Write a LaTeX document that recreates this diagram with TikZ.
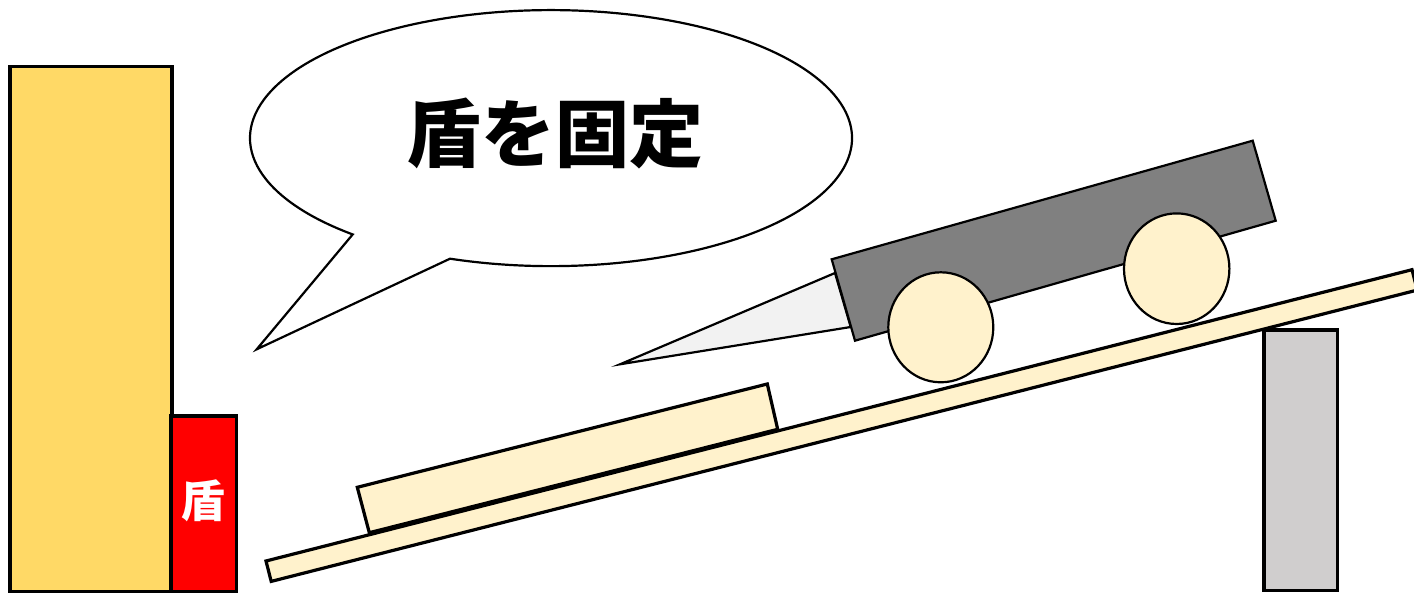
\documentclass[tikz,border=0pt]{standalone}
\usepackage{fontspec}
\newfontfamily\jpfont{Noto Sans CJK JP}
\definecolor{wallyellow}{HTML}{FFD966}
\definecolor{shieldred}{HTML}{FF0000}
\definecolor{cream}{HTML}{FFF2CC}
\definecolor{postgray}{HTML}{D0CECE}
\definecolor{bodygray}{HTML}{808080}
\definecolor{conegray}{HTML}{F2F2F2}
\begin{document}
\begin{tikzpicture}[x=1pt, y=-1pt, line join=miter,
  heavy/.style={draw=black, line width=3.2pt},
  light/.style={draw=black, line width=2.2pt}]
\useasboundingbox (0,0) rectangle (1414,593);

% wall and shield
\draw[heavy, fill=wallyellow] (10,66.7) rectangle (172,591.5);
\draw[heavy, fill=shieldred] (171,416) rectangle (236.7,591.5);
\node[text=white, font=\jpfont\bfseries\fontsize{44}{44}\selectfont, inner sep=0pt]
  (shieldlabel) at (203,501) {盾};

% speech bubble
\draw[light, fill=white] (450,258.7)
  arc[start angle=109.6, end angle=-228.8, x radius=301, y radius=128]
  -- (256.7,349.3) -- cycle;
\node[font=\jpfont\bfseries\fontsize{74}{74}\selectfont, inner sep=0pt]
  (speech) at (555,133) {盾を固定};

% support post and ramp
\draw[heavy, fill=postgray] (1264,330) rectangle (1337.3,590.7);
\draw[heavy, fill=cream] (266,561) -- (1412,269.7) -- (1417.2,290.1) -- (271.2,581.4) -- cycle;

% board lying on the ramp
\draw[heavy, fill=cream] (357.3,487.3) -- (767.3,384) -- (777.7,429.3) -- (369.3,532.7) -- cycle;

% cart: nose cone, body, wheels
\draw[light, fill=conegray] (620,364.3) -- (835,273) -- (850.7,327) -- cycle;
\draw[light, fill=bodygray] (831.7,259.3) -- (1252.7,140.7) -- (1275.7,220.7) -- (855,340.7) -- cycle;
\draw[light, fill=cream] (940.8,327.3) ellipse[x radius=52.5, y radius=55];
\draw[light, fill=cream] (1176.7,268.7) ellipse[x radius=52.7, y radius=55.3];
\end{tikzpicture}
\end{document}
